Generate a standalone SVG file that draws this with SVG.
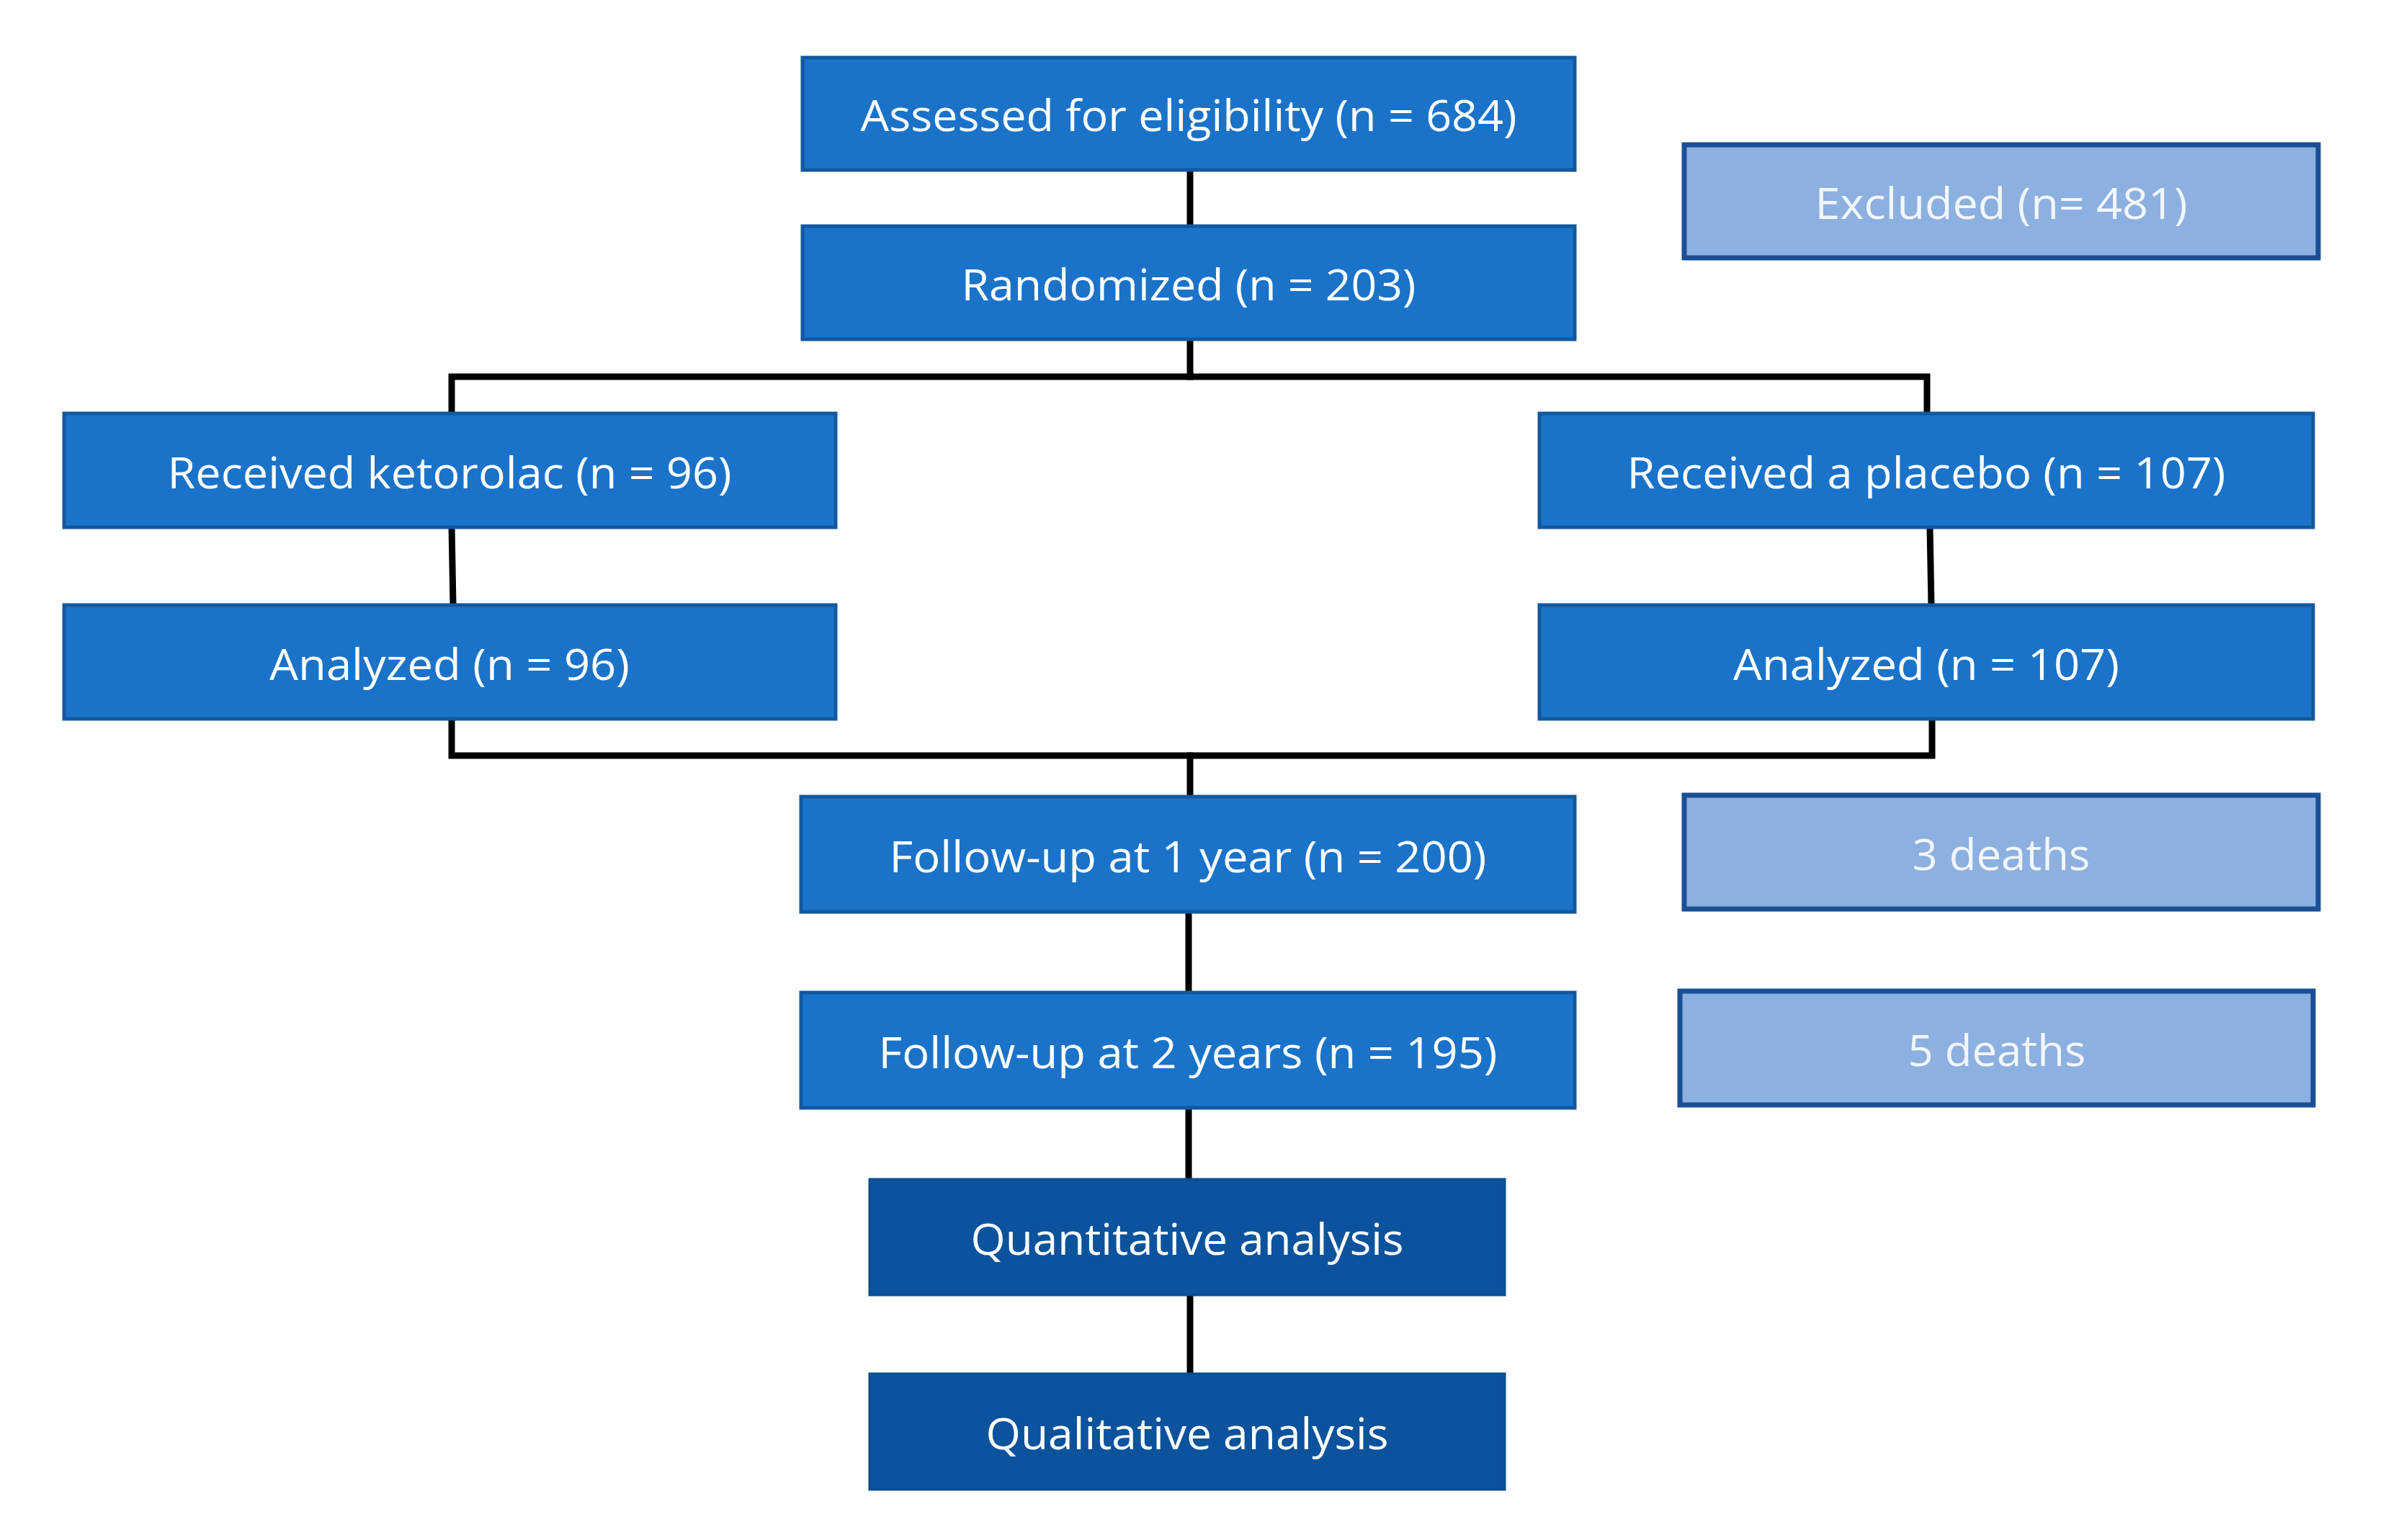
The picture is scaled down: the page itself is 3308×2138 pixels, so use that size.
<svg xmlns="http://www.w3.org/2000/svg" width="3308" height="2138" viewBox="0 0 3308 2138">
<style>
.main{fill:#1a73c9;stroke:#12589f;stroke-width:5}
.dark{fill:#0b539c;stroke:#0a4c90;stroke-width:3}
.light{fill:#8cb0df;stroke:#1a4f97;stroke-width:7}
.t{font-family:"Open Sans","Liberation Sans",sans-serif;font-size:60px;fill:#ffffff;text-anchor:middle}
.tl{fill:#f2f6fc}
.c{stroke:#000;stroke-width:9;fill:none;stroke-linejoin:miter;stroke-linecap:square}
</style>
<rect width="3308" height="2138" fill="#ffffff"/>
<g id="connectors">
<line class="c" x1="1652" y1="236" x2="1652" y2="314"/>
<polyline class="c" points="627,574 627,523 2675,523 2675,574"/>
<line class="c" x1="1652" y1="471" x2="1652" y2="523"/>
<line class="c" x1="627" y1="732" x2="629" y2="840"/>
<line class="c" x1="2679" y1="732" x2="2681" y2="840"/>
<polyline class="c" points="627,998 627,1049 2682,1049 2682,998"/>
<line class="c" x1="1652" y1="1049" x2="1652" y2="1106"/>
<line class="c" x1="1650" y1="1266" x2="1650" y2="1378"/>
<line class="c" x1="1650" y1="1538" x2="1650" y2="1637"/>
<line class="c" x1="1652" y1="1798" x2="1652" y2="1907"/>
</g>
<g id="n-assessed"><rect class="main" x="1114" y="80" width="1072" height="156"/><text class="t" x="1650" y="182" textLength="911" lengthAdjust="spacingAndGlyphs">Assessed for eligibility (n = 684)</text></g>
<g id="n-randomized"><rect class="main" x="1114" y="314" width="1072" height="157"/><text class="t" x="1650" y="417" textLength="631" lengthAdjust="spacingAndGlyphs">Randomized (n = 203)</text></g>
<g id="n-excluded"><rect class="light" x="2338" y="201" width="880" height="157"/><text class="t tl" x="2778" y="304" textLength="517" lengthAdjust="spacingAndGlyphs">Excluded (n= 481)</text></g>
<g id="n-ketorolac"><rect class="main" x="89" y="574" width="1071" height="158"/><text class="t" x="624" y="678" textLength="783" lengthAdjust="spacingAndGlyphs">Received ketorolac (n = 96)</text></g>
<g id="n-placebo"><rect class="main" x="2137" y="574" width="1074" height="158"/><text class="t" x="2674" y="678" textLength="831" lengthAdjust="spacingAndGlyphs">Received a placebo (n = 107)</text></g>
<g id="n-analyzed96"><rect class="main" x="89" y="840" width="1071" height="158"/><text class="t" x="624" y="944" textLength="500" lengthAdjust="spacingAndGlyphs">Analyzed (n = 96)</text></g>
<g id="n-analyzed107"><rect class="main" x="2137" y="840" width="1074" height="158"/><text class="t" x="2674" y="944" textLength="536" lengthAdjust="spacingAndGlyphs">Analyzed (n = 107)</text></g>
<g id="n-followup1"><rect class="main" x="1112" y="1106" width="1074" height="160"/><text class="t" x="1649" y="1211" textLength="829" lengthAdjust="spacingAndGlyphs">Follow-up at 1 year (n = 200)</text></g>
<g id="n-deaths3"><rect class="light" x="2338" y="1104" width="880" height="158"/><text class="t tl" x="2778" y="1208" textLength="247" lengthAdjust="spacingAndGlyphs">3 deaths</text></g>
<g id="n-followup2"><rect class="main" x="1112" y="1378" width="1074" height="160"/><text class="t" x="1649" y="1483" textLength="859" lengthAdjust="spacingAndGlyphs">Follow-up at 2 years (n = 195)</text></g>
<g id="n-deaths5"><rect class="light" x="2332" y="1376" width="879" height="158"/><text class="t tl" x="2772" y="1480" textLength="247" lengthAdjust="spacingAndGlyphs">5 deaths</text></g>
<g id="n-quantitative"><rect class="dark" x="1207" y="1637" width="882" height="161"/><text class="t" x="1648" y="1742" textLength="601" lengthAdjust="spacingAndGlyphs">Quantitative analysis</text></g>
<g id="n-qualitative"><rect class="dark" x="1207" y="1907" width="882" height="161"/><text class="t" x="1648" y="2012" textLength="559" lengthAdjust="spacingAndGlyphs">Qualitative analysis</text></g>
</svg>
